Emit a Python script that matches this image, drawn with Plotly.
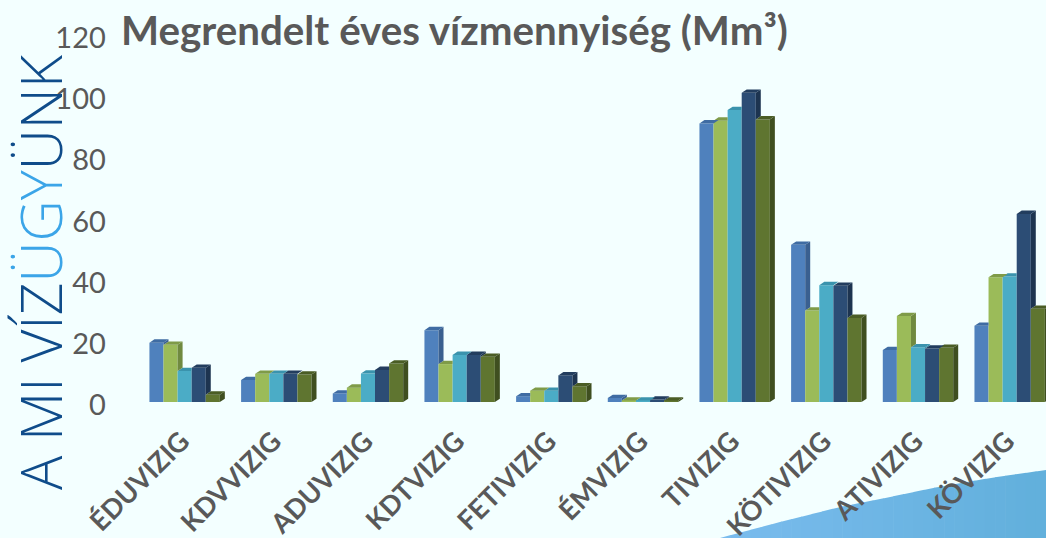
import plotly.graph_objects as go

categories = ["ÉDUVIZIG", "KDVVIZIG", "ADUVIZIG", "KDTVIZIG", "FETIVIZIG", "ÉMVIZIG", "TIVIZIG", "KÖTIVIZIG", "ATIVIZIG", "KÖVIZIG"]
s1 = [19.4, 7.2, 2.8, 23.5, 1.9, 1.3, 91.1, 51.4, 17.0, 24.9]
s2 = [18.7, 9.2, 4.7, 12.4, 3.7, 0.5, 92.0, 29.9, 28.1, 40.8]
s3 = [10.1, 9.2, 9.3, 15.4, 3.7, 0.5, 95.5, 38.2, 17.9, 41.0]
s4 = [11.2, 9.2, 10.5, 15.4, 8.7, 0.8, 101.1, 38.0, 17.5, 61.5]
s5 = [2.4, 9.0, 12.6, 14.8, 5.1, 0.5, 92.4, 27.5, 17.7, 30.5]
series = [s1, s2, s3, s4, s5]
front_colors = ["#4F81BD", "#9BBB59", "#4BACC6", "#2C4D75", "#5F7530"]
side_colors = ["#3A6090", "#708A40", "#3186A0", "#1D3450", "#3F4F20"]
top_colors = ["#3F6CA3", "#7F9B48", "#3A93AD", "#223D5E", "#4A5D25"]
y_ticks = [0, 20, 40, 60, 80, 100, 120]

W, H = 1046, 538
px_x = 91.67
px_y = 3.058
left, base, top = 138.8, 402, 35
xmax = (W - left) / px_x - 0.5
bargap = 0.232
bw = (1 - bargap) / 5
dx = 5 / px_x
dy = 3.3 / px_y

fig = go.Figure()
for i, vals in enumerate(series):
    fig.add_trace(go.Bar(x=list(range(10)), y=vals, width=bw, offset=-(1 - bargap) / 2 + i * bw,
                         marker=dict(color=front_colors[i], line=dict(width=0)), showlegend=False, hoverinfo="skip"))

# Extruded side and top faces, derived from the values
for i in range(4, -1, -1):
    for g, v in enumerate(series[i]):
        xl = g - (1 - bargap) / 2 + i * bw
        xr = xl + bw
        nxt = series[i + 1][g] if i < 4 else 0
        if v + dy > nxt:
            lo = min(nxt, v)
            fig.add_trace(go.Scatter(x=[xr, xr + dx, xr + dx, xr, xr], y=[lo, lo + dy, v + dy, v, lo],
                                     mode="lines", line=dict(width=0), fill="toself", fillcolor=side_colors[i],
                                     showlegend=False, hoverinfo="skip"))
        if nxt >= v + dy:
            xs = [xl, xr, xr, xl + dx, xl]
        else:
            xs = [xl, xr, xr + dx, xl + dx, xl]
        fig.add_trace(go.Scatter(x=xs, y=[v, v, v + dy, v + dy, v], mode="lines", line=dict(width=0),
                                 fill="toself", fillcolor=top_colors[i], showlegend=False, hoverinfo="skip"))

# Bottom-right swoosh, as vertical gradient strips
curve_x = [720, 780, 840, 890, 933, 990, 1046]
curve_y = [538, 522, 507, 497, 488, 478, 470]
def curve(x):
    for k in range(len(curve_x) - 1):
        if curve_x[k] <= x <= curve_x[k + 1]:
            t = (x - curve_x[k]) / (curve_x[k + 1] - curve_x[k])
            return curve_y[k] + t * (curve_y[k + 1] - curve_y[k])
    return curve_y[-1]
shapes = []
n = 32
for k in range(n):
    a = 720 + (1046 - 720) * k / n
    b = min(720 + (1046 - 720) * (k + 1) / n + 0.6, 1046)
    t = k / (n - 1)
    c = (int(122 + (98 - 122) * t), int(188 + (176 - 188) * t), int(238 + (220 - 238) * t))
    p = f"M{a/W},0 L{a/W},{1-curve(a)/H} L{b/W},{1-curve(b)/H} L{b/W},0 Z"
    shapes.append(dict(type="path", xref="paper", yref="paper", path=p, fillcolor=f"rgb{c}", line=dict(width=0), layer="below"))

fig.update_layout(
    width=W, height=H, autosize=False,
    margin=dict(l=0, r=0, t=0, b=0, autoexpand=False),
    paper_bgcolor="#F3FFFF", plot_bgcolor="rgba(0,0,0,0)",
    bargap=bargap, barmode="overlay", shapes=shapes,
    font=dict(family="Lato", color="#595959"),
    xaxis=dict(domain=[left / W, 1], range=[-0.5, xmax], tickmode="array", tickvals=list(range(10)), ticktext=categories,
               tickangle=-45, showgrid=False, showline=False, zeroline=False, ticks="", ticklabelstandoff=17, ticklabelshift=-3, automargin=False,
               tickfont=dict(family="Lato", size=27, weight="bold", color="#595959"), anchor="y"),
    yaxis=dict(domain=[1 - base / H, 1 - top / H], range=[0, 120], tickmode="array", tickvals=y_ticks,
               showgrid=False, showline=False, zeroline=False, ticks="", ticklabelstandoff=32, ticklabelshift=3, automargin=False,
               tickfont=dict(family="Lato", size=29, color="#595959"), anchor="x"),
    annotations=[
        dict(text="<b>Megrendelt éves vízmennyiség (Mm³)</b>", xref="paper", yref="paper", x=119 / W, y=1 - 30 / H,
             xanchor="left", yanchor="middle", showarrow=False, font=dict(family="Lato", size=40.3, color="#595959")),
        dict(text="A MI VÍZ<span style='color:#3BA5E8'>ÜGY</span>ÜNK", xref="paper", yref="paper", x=40 / W, y=1 - 272 / H,
             xanchor="center", yanchor="middle", textangle=-90, showarrow=False,
             font=dict(family="Open Sans", size=57, weight=300, color="#0F4C8A")),
    ],
)
fig.write_html("out.html", config=dict(displayModeBar=False), post_script="document.body.style.margin='0';document.body.style.background='#F3FFFF';")
